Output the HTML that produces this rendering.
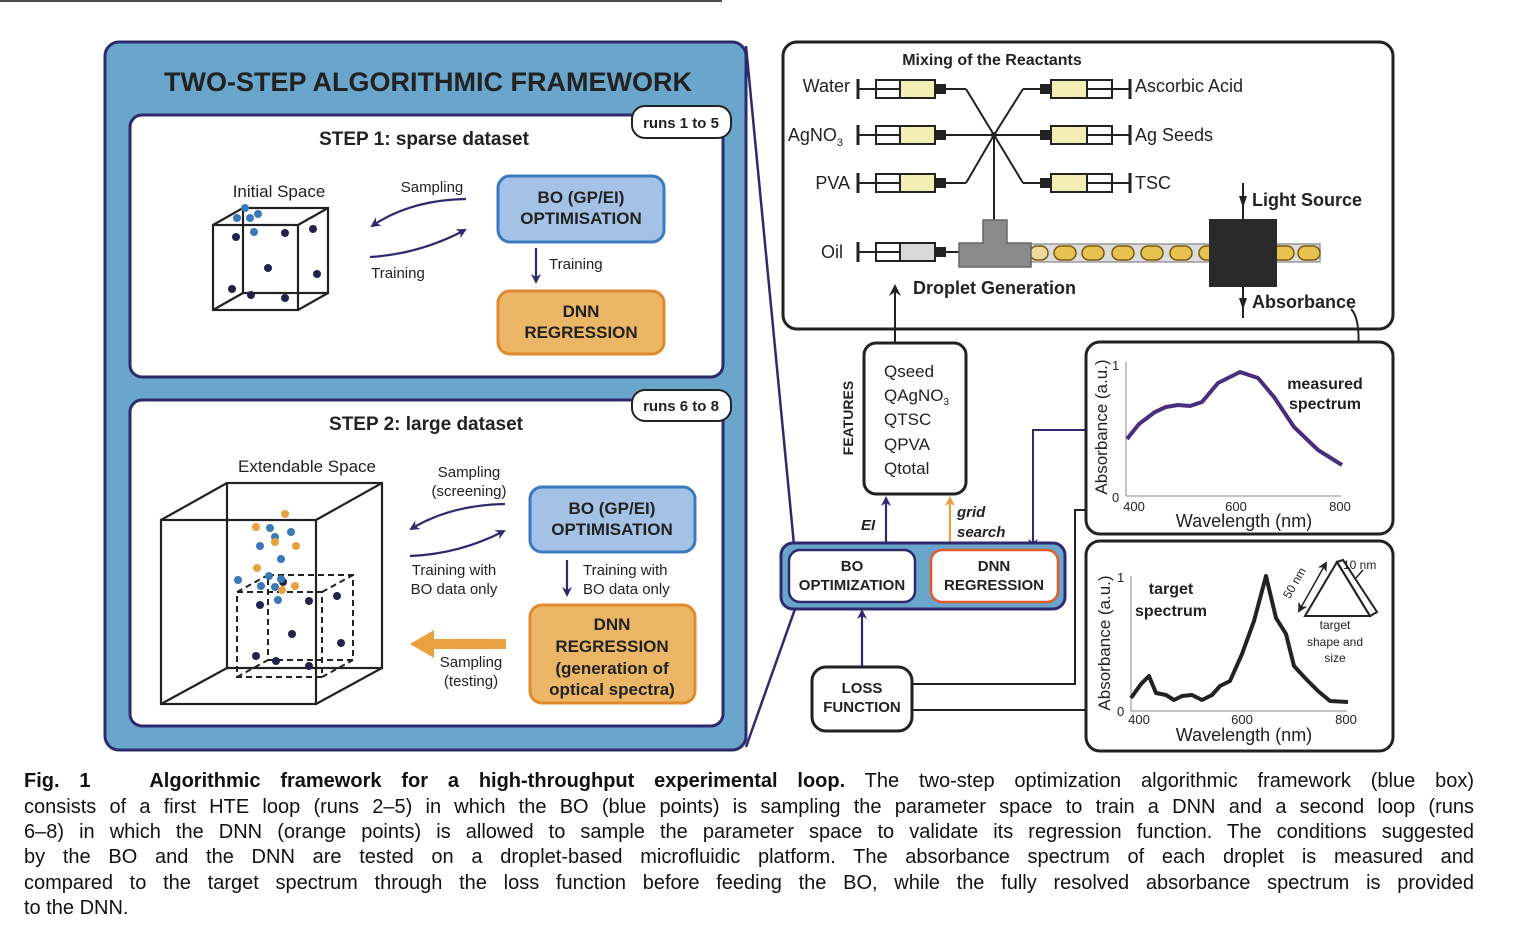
<!DOCTYPE html>
<html><head><meta charset="utf-8">
<style>
html,body{margin:0;padding:0;background:#fff;}
body{width:1516px;height:948px;position:relative;overflow:hidden;font-family:"Liberation Sans",sans-serif;}
svg{position:absolute;left:0;top:0;}
.cap{position:absolute;left:24px;width:1450px;font-size:20px;line-height:25px;color:#111;white-space:nowrap;text-align:justify;text-align-last:justify;}
</style></head><body>
<svg width="1516" height="948" viewBox="0 0 1516 948" font-family="Liberation Sans, sans-serif">
<defs>
<marker id="an" markerWidth="10" markerHeight="10" refX="8" refY="5" orient="auto" markerUnits="userSpaceOnUse"><path d="M0,0 L10,5 L0,10 L3,5 z" fill="#2e2a6e"/></marker>
<marker id="ab" markerWidth="10" markerHeight="10" refX="8" refY="5" orient="auto" markerUnits="userSpaceOnUse"><path d="M0,0 L10,5 L0,10 L3,5 z" fill="#222"/></marker>
<marker id="ao" markerWidth="10" markerHeight="10" refX="8" refY="5" orient="auto" markerUnits="userSpaceOnUse"><path d="M0,0 L10,5 L0,10 L3,5 z" fill="#e8a040"/></marker>
<marker id="ak" markerWidth="12" markerHeight="12" refX="10" refY="6" orient="auto" markerUnits="userSpaceOnUse"><path d="M0,0 L12,6 L0,12 L4,6 z" fill="#222"/></marker>
</defs>
<line x1="0" y1="1" x2="722" y2="1" stroke="#111" stroke-width="1.5"/>

<line x1="746" y1="46" x2="794" y2="545" stroke="#2e2a6e" stroke-width="2.5"/>
<line x1="746" y1="747" x2="795" y2="609" stroke="#2e2a6e" stroke-width="2.5"/>

<rect x="105" y="42" width="641" height="708" rx="14" fill="#6aa6cb" stroke="#2e2a6e" stroke-width="3"/>
<text x="428" y="91" text-anchor="middle" font-size="27" font-weight="bold" fill="#222">TWO-STEP ALGORITHMIC FRAMEWORK</text>

<rect x="130" y="115" width="593" height="262" rx="12" fill="#fff" stroke="#2e2a6e" stroke-width="3"/>
<rect x="632" y="106" width="99" height="32" rx="13" fill="#fff" stroke="#222" stroke-width="2"/>
<text x="681" y="128" text-anchor="middle" font-size="15" font-weight="bold" fill="#222">runs 1 to 5</text>
<text x="424" y="145" text-anchor="middle" font-size="19" font-weight="bold" fill="#222">STEP 1: sparse dataset</text>
<text x="279" y="197" text-anchor="middle" font-size="17" fill="#222">Initial Space</text>
<g fill="none" stroke="#222" stroke-width="2.2">
<rect x="213" y="225" width="85" height="85"/>
<rect x="243" y="208" width="85" height="85"/>
<line x1="213" y1="225" x2="243" y2="208"/><line x1="298" y1="225" x2="328" y2="208"/>
<line x1="213" y1="310" x2="243" y2="293"/><line x1="298" y1="310" x2="328" y2="293"/>
</g>
<g fill="#23234a">
<circle cx="236" cy="237" r="4"/><circle cx="285" cy="233" r="4"/><circle cx="268" cy="268" r="4"/><circle cx="232" cy="289" r="4"/><circle cx="251" cy="295" r="4"/><circle cx="285" cy="298" r="4"/><circle cx="313" cy="229" r="4"/><circle cx="317" cy="274" r="4"/>
</g>
<g fill="#3a78b8">
<circle cx="245" cy="208" r="4"/><circle cx="237" cy="218" r="4"/><circle cx="250" cy="218" r="4"/><circle cx="258" cy="214" r="4"/><circle cx="254" cy="232" r="4"/>
</g>
<text x="432" y="192" text-anchor="middle" font-size="15" fill="#222">Sampling</text>
<path d="M466,199 Q410,200 372,226" fill="none" stroke="#2e2a6e" stroke-width="2.2" marker-end="url(#an)"/>
<path d="M370,257 Q420,254 465,230" fill="none" stroke="#2e2a6e" stroke-width="2.2" marker-end="url(#an)"/>
<text x="398" y="278" text-anchor="middle" font-size="15" fill="#222">Training</text>
<rect x="498" y="176" width="166" height="66" rx="12" fill="#a4c2e6" stroke="#3a7bbf" stroke-width="3"/>
<text x="581" y="203" text-anchor="middle" font-size="17" font-weight="bold" fill="#222">BO (GP/EI)</text>
<text x="581" y="224" text-anchor="middle" font-size="17" font-weight="bold" fill="#222">OPTIMISATION</text>
<line x1="536" y1="248" x2="536" y2="282" stroke="#2e2a6e" stroke-width="2.2" marker-end="url(#an)"/>
<text x="549" y="269" font-size="15" fill="#222">Training</text>
<rect x="498" y="291" width="166" height="63" rx="12" fill="#ebb666" stroke="#e08a2e" stroke-width="3"/>
<text x="581" y="317" text-anchor="middle" font-size="17" font-weight="bold" fill="#222">DNN</text>
<text x="581" y="338" text-anchor="middle" font-size="17" font-weight="bold" fill="#222">REGRESSION</text>

<rect x="130" y="400" width="593" height="326" rx="12" fill="#fff" stroke="#2e2a6e" stroke-width="3"/>
<rect x="632" y="390" width="99" height="31" rx="13" fill="#fff" stroke="#222" stroke-width="2"/>
<text x="681" y="411" text-anchor="middle" font-size="15" font-weight="bold" fill="#222">runs 6 to 8</text>
<text x="426" y="430" text-anchor="middle" font-size="19" font-weight="bold" fill="#222">STEP 2: large dataset</text>
<text x="307" y="472" text-anchor="middle" font-size="17" fill="#222">Extendable Space</text>
<g fill="none" stroke="#222" stroke-width="2.2">
<rect x="161" y="520" width="155" height="184"/>
<rect x="227" y="483" width="155" height="185"/>
<line x1="161" y1="520" x2="227" y2="483"/><line x1="316" y1="520" x2="382" y2="483"/>
<line x1="161" y1="704" x2="227" y2="668"/><line x1="316" y1="704" x2="382" y2="668"/>
</g>
<g fill="none" stroke="#222" stroke-width="2" stroke-dasharray="6,4">
<rect x="237" y="592" width="85" height="85"/>
<rect x="268" y="575" width="85" height="85"/>
<line x1="237" y1="592" x2="268" y2="575"/><line x1="322" y1="592" x2="353" y2="575"/>
<line x1="237" y1="677" x2="268" y2="660"/><line x1="322" y1="677" x2="353" y2="660"/>
</g>
<g fill="#23234a">
<circle cx="283" cy="582" r="4"/><circle cx="260" cy="605" r="4"/><circle cx="309" cy="601" r="4"/><circle cx="337" cy="596" r="4"/><circle cx="292" cy="634" r="4"/><circle cx="341" cy="643" r="4"/><circle cx="256" cy="656" r="4"/><circle cx="276" cy="661" r="4"/><circle cx="309" cy="666" r="4"/>
</g>
<g fill="#3a78b8">
<circle cx="270" cy="528" r="4"/><circle cx="291" cy="532" r="4"/><circle cx="260" cy="546" r="4"/><circle cx="275" cy="537" r="4"/><circle cx="281" cy="559" r="4"/><circle cx="238" cy="580" r="4"/><circle cx="269" cy="576" r="4"/><circle cx="261" cy="586" r="4"/><circle cx="275" cy="587" r="4"/><circle cx="281" cy="579" r="4"/><circle cx="278" cy="600" r="4"/>
</g>
<g fill="#e8a040">
<circle cx="285" cy="514" r="4"/><circle cx="256" cy="527" r="4"/><circle cx="275" cy="542" r="4"/><circle cx="296" cy="546" r="4"/><circle cx="257" cy="568" r="4"/><circle cx="295" cy="586" r="4"/><circle cx="282" cy="590" r="4"/>
</g>
<text x="469" y="477" text-anchor="middle" font-size="15" fill="#222">Sampling</text>
<text x="469" y="496" text-anchor="middle" font-size="15" fill="#222">(screening)</text>
<path d="M505,504 Q450,505 411,529" fill="none" stroke="#2e2a6e" stroke-width="2.2" marker-end="url(#an)"/>
<path d="M410,556 Q460,554 504,531" fill="none" stroke="#2e2a6e" stroke-width="2.2" marker-end="url(#an)"/>
<text x="454" y="575" text-anchor="middle" font-size="15" fill="#222">Training with</text>
<text x="454" y="594" text-anchor="middle" font-size="15" fill="#222">BO data only</text>
<rect x="530" y="487" width="165" height="65" rx="12" fill="#a4c2e6" stroke="#3a7bbf" stroke-width="3"/>
<text x="612" y="514" text-anchor="middle" font-size="17" font-weight="bold" fill="#222">BO (GP/EI)</text>
<text x="612" y="535" text-anchor="middle" font-size="17" font-weight="bold" fill="#222">OPTIMISATION</text>
<line x1="567" y1="560" x2="567" y2="595" stroke="#2e2a6e" stroke-width="2.2" marker-end="url(#an)"/>
<text x="583" y="575" font-size="15" fill="#222">Training with</text>
<text x="583" y="594" font-size="15" fill="#222">BO data only</text>
<rect x="530" y="605" width="165" height="98" rx="12" fill="#ebb666" stroke="#e08a2e" stroke-width="3"/>
<text x="612" y="630" text-anchor="middle" font-size="17" font-weight="bold" fill="#222">DNN</text>
<text x="612" y="652" text-anchor="middle" font-size="17" font-weight="bold" fill="#222">REGRESSION</text>
<text x="612" y="674" text-anchor="middle" font-size="17" font-weight="bold" fill="#222">(generation of</text>
<text x="612" y="695" text-anchor="middle" font-size="17" font-weight="bold" fill="#222">optical spectra)</text>
<rect x="430" y="639" width="76" height="10" fill="#e8a040"/>
<polygon points="410,644 434,630 434,658" fill="#e8a040"/>
<text x="471" y="667" text-anchor="middle" font-size="15" fill="#222">Sampling</text>
<text x="471" y="686" text-anchor="middle" font-size="15" fill="#222">(testing)</text>

<rect x="783" y="42" width="610" height="287" rx="14" fill="#fff" stroke="#222" stroke-width="3"/>
<text x="992" y="65" text-anchor="middle" font-size="16" font-weight="bold" fill="#222">Mixing of the Reactants</text>
<g stroke="#222" stroke-width="2" fill="none">
<g id="ls">
<line x1="858" y1="79" x2="858" y2="99" stroke-width="3"/>
<line x1="858" y1="89" x2="876" y2="89"/>
<rect x="876" y="80" width="24" height="18" fill="#fff"/>
<line x1="876" y1="89" x2="900" y2="89"/>
<rect x="900" y="80" width="35" height="18" fill="#f2eeb4"/>
<rect x="935" y="85" width="10" height="8" fill="#222"/>
</g>
<use href="#ls" y="46"/><use href="#ls" y="94"/>
<line x1="945" y1="89" x2="966" y2="89"/><line x1="966" y1="89" x2="994" y2="135"/>
<line x1="945" y1="135" x2="994" y2="135"/>
<line x1="945" y1="183" x2="966" y2="183"/><line x1="966" y1="183" x2="994" y2="135"/>
<g id="rs">
<line x1="1130" y1="79" x2="1130" y2="99" stroke-width="3"/>
<line x1="1112" y1="89" x2="1130" y2="89"/>
<rect x="1087" y="80" width="25" height="18" fill="#fff"/>
<line x1="1087" y1="89" x2="1112" y2="89"/>
<rect x="1051" y="80" width="36" height="18" fill="#f2eeb4"/>
<rect x="1041" y="85" width="10" height="8" fill="#222"/>
</g>
<use href="#rs" y="46"/><use href="#rs" y="94"/>
<line x1="1023" y1="89" x2="1041" y2="89"/><line x1="1023" y1="89" x2="994" y2="135"/>
<line x1="994" y1="135" x2="1041" y2="135"/>
<line x1="1023" y1="183" x2="1041" y2="183"/><line x1="1023" y1="183" x2="994" y2="135"/>
<line x1="994" y1="135" x2="994" y2="220"/>
<line x1="858" y1="242" x2="858" y2="262" stroke-width="3"/>
<line x1="858" y1="252" x2="876" y2="252"/>
<rect x="876" y="243" width="24" height="18" fill="#fff"/>
<line x1="876" y1="252" x2="900" y2="252"/>
<rect x="900" y="243" width="35" height="18" fill="#d8d8d8"/>
<rect x="935" y="248" width="10" height="8" fill="#222"/>
<line x1="945" y1="252" x2="959" y2="252"/>
</g>
<circle cx="994" cy="135" r="3" fill="#222"/>
<g font-size="18" fill="#222">
<text x="850" y="92" text-anchor="end">Water</text>
<text x="843" y="141" text-anchor="end">AgNO<tspan font-size="11" dy="5">3</tspan></text>
<text x="850" y="189" text-anchor="end">PVA</text>
<text x="843" y="258" text-anchor="end">Oil</text>
<text x="1135" y="92">Ascorbic Acid</text>
<text x="1135" y="141">Ag Seeds</text>
<text x="1135" y="189">TSC</text>
</g>
<rect x="1031" y="244" width="289" height="18" fill="#dcdcdc" stroke="#999" stroke-width="1.5"/>
<g stroke="#7a5a10" stroke-width="1.5" fill="#e6c251">
<rect x="1030" y="246" width="18" height="14" rx="7" fill="#ecd9a0"/>
<rect x="1054" y="246" width="22" height="14" rx="7"/>
<rect x="1082" y="246" width="22" height="14" rx="7"/>
<rect x="1112" y="246" width="22" height="14" rx="7"/>
<rect x="1141" y="246" width="22" height="14" rx="7"/>
<rect x="1170" y="246" width="22" height="14" rx="7"/>
<rect x="1199" y="246" width="22" height="14" rx="7"/>
<rect x="1272" y="246" width="22" height="14" rx="7"/>
<rect x="1298" y="246" width="22" height="14" rx="7"/>
</g>
<path d="M983,220 H1007 V243 H1031 V267 H959 V243 H983 Z" fill="#8a8a8a" stroke="#666" stroke-width="1.5"/>
<rect x="1209" y="219" width="68" height="68" fill="#2a2a2a"/>
<line x1="1243" y1="183" x2="1243" y2="219" stroke="#222" stroke-width="2"/>
<path d="M1239,196 L1243,208 L1247,196" fill="#222"/>
<line x1="1243" y1="287" x2="1243" y2="318" stroke="#222" stroke-width="2"/>
<path d="M1239,298 L1243,310 L1247,298" fill="#222"/>
<text x="1252" y="206" font-size="18" font-weight="bold" fill="#222">Light Source</text>
<text x="1252" y="308" font-size="18" font-weight="bold" fill="#222">Absorbance</text>
<text x="913" y="294" font-size="18" font-weight="bold" fill="#222">Droplet Generation</text>
<path d="M1351,309 Q1362,320 1357,364" fill="none" stroke="#222" stroke-width="2" marker-end="url(#ak)"/>

<line x1="895" y1="343" x2="895" y2="286" stroke="#222" stroke-width="2" marker-end="url(#ak)"/>
<rect x="864" y="343" width="102" height="151" rx="12" fill="#fff" stroke="#222" stroke-width="3"/>
<g font-size="17" fill="#222">
<text x="884" y="377">Qseed</text>
<text x="884" y="401">QAgNO<tspan font-size="10" dy="4">3</tspan></text>
<text x="884" y="425">QTSC</text>
<text x="884" y="450">QPVA</text>
<text x="884" y="474">Qtotal</text>
</g>
<text transform="translate(853,418) rotate(-90)" text-anchor="middle" font-size="14" font-weight="bold" fill="#222">FEATURES</text>
<line x1="886" y1="548" x2="886" y2="498" stroke="#2e2a6e" stroke-width="2.2" marker-end="url(#an)"/>
<text x="861" y="530" font-size="15" font-weight="bold" font-style="italic" fill="#222">EI</text>
<line x1="950" y1="548" x2="950" y2="498" stroke="#e8a040" stroke-width="2.2" marker-end="url(#ao)"/>
<text x="957" y="517" font-size="15" font-weight="bold" font-style="italic" fill="#222">grid</text>
<text x="957" y="537" font-size="15" font-weight="bold" font-style="italic" fill="#222">search</text>
<polyline points="1086,430 1033,430 1033,547" fill="none" stroke="#2e2a6e" stroke-width="2" marker-end="url(#an)"/>

<rect x="781" y="543" width="284" height="66" rx="12" fill="#6aa6cb" stroke="#2e2a6e" stroke-width="3"/>
<rect x="789" y="550" width="126" height="52" rx="11" fill="#fff" stroke="#2e2a6e" stroke-width="2.5"/>
<text x="852" y="571" text-anchor="middle" font-size="15" font-weight="bold" fill="#222">BO</text>
<text x="852" y="590" text-anchor="middle" font-size="15" font-weight="bold" fill="#222">OPTIMIZATION</text>
<rect x="931" y="550" width="127" height="52" rx="11" fill="#fff" stroke="#e05a2b" stroke-width="2.5"/>
<text x="994" y="571" text-anchor="middle" font-size="15" font-weight="bold" fill="#222">DNN</text>
<text x="994" y="590" text-anchor="middle" font-size="15" font-weight="bold" fill="#222">REGRESSION</text>
<line x1="862" y1="666" x2="862" y2="611" stroke="#2e2a6e" stroke-width="2.2" marker-end="url(#an)"/>

<rect x="812" y="667" width="100" height="64" rx="14" fill="#fff" stroke="#222" stroke-width="3"/>
<text x="862" y="693" text-anchor="middle" font-size="15" font-weight="bold" fill="#222">LOSS</text>
<text x="862" y="712" text-anchor="middle" font-size="15" font-weight="bold" fill="#222">FUNCTION</text>
<polyline points="912,684 1075,684 1075,510 1086,510" fill="none" stroke="#222" stroke-width="2"/>
<line x1="912" y1="710" x2="1086" y2="710" stroke="#222" stroke-width="2"/>

<rect x="1086" y="342" width="307" height="192" rx="14" fill="#fff" stroke="#222" stroke-width="3"/>
<g stroke="#888" stroke-width="1" fill="none"><line x1="1126" y1="362" x2="1126" y2="496"/><line x1="1126" y1="496" x2="1341" y2="496"/></g>
<g font-size="13" fill="#222">
<text x="1112" y="370">1</text><text x="1112" y="502">0</text>
<text x="1134" y="511" text-anchor="middle">400</text><text x="1236" y="511" text-anchor="middle">600</text><text x="1340" y="511" text-anchor="middle">800</text>
</g>
<text x="1244" y="527" text-anchor="middle" font-size="18" fill="#222">Wavelength (nm)</text>
<text transform="translate(1107,427) rotate(-90)" text-anchor="middle" font-size="17" fill="#222">Absorbance (a.u.)</text>
<polyline points="1127,439 1139,424 1155,412 1166,407 1178,405 1190,406 1202,402 1218,383 1240,372 1258,378 1274,397 1294,427 1318,450 1342,465" fill="none" stroke="#4a2e7e" stroke-width="4" stroke-linejoin="round"/>
<text x="1325" y="389" text-anchor="middle" font-size="16" font-weight="bold" fill="#222">measured</text>
<text x="1325" y="409" text-anchor="middle" font-size="16" font-weight="bold" fill="#222">spectrum</text>

<rect x="1086" y="541" width="307" height="210" rx="14" fill="#fff" stroke="#222" stroke-width="3"/>
<g stroke="#888" stroke-width="1" fill="none"><line x1="1131" y1="576" x2="1131" y2="711"/><line x1="1131" y1="711" x2="1347" y2="711"/></g>
<g font-size="13" fill="#222">
<text x="1117" y="582">1</text><text x="1117" y="716">0</text>
<text x="1139" y="724" text-anchor="middle">400</text><text x="1242" y="724" text-anchor="middle">600</text><text x="1346" y="724" text-anchor="middle">800</text>
</g>
<text x="1244" y="741" text-anchor="middle" font-size="18" fill="#222">Wavelength (nm)</text>
<text transform="translate(1110,643) rotate(-90)" text-anchor="middle" font-size="17" fill="#222">Absorbance (a.u.)</text>
<polyline points="1131,698 1141,684 1149,676 1156,693 1166,695 1174,700 1182,696 1192,695 1202,700 1212,695 1220,686 1230,681 1242,654 1254,621 1266,576 1276,618 1286,634 1294,666 1306,679 1318,691 1330,701 1348,702" fill="none" stroke="#222" stroke-width="4" stroke-linejoin="round"/>
<text x="1171" y="594" text-anchor="middle" font-size="16" font-weight="bold" fill="#222">target</text>
<text x="1171" y="616" text-anchor="middle" font-size="16" font-weight="bold" fill="#222">spectrum</text>
<g fill="none" stroke="#222" stroke-width="2">
<polygon points="1305,616 1337,562 1370,616"/>
<polygon points="1337,562 1343,560 1377,612 1370,616"/>
</g>
<line x1="1312" y1="588" x2="1326" y2="563" stroke="#222" stroke-width="1.5" marker-end="url(#ab)"/>
<line x1="1312" y1="588" x2="1299" y2="611" stroke="#222" stroke-width="1.5" marker-end="url(#ab)"/>
<text transform="translate(1298,585) rotate(-60)" text-anchor="middle" font-size="12" fill="#222">50 nm</text>
<text x="1343" y="569" font-size="12" fill="#222">10 nm</text>
<line x1="1363" y1="570" x2="1356" y2="578" stroke="#222" stroke-width="1.5"/>
<text x="1335" y="629" text-anchor="middle" font-size="12" fill="#222">target</text>
<text x="1335" y="646" text-anchor="middle" font-size="12" fill="#222">shape and</text>
<text x="1335" y="662" text-anchor="middle" font-size="12" fill="#222">size</text>
</svg>

<div class="cap" style="top:769px"><b>Fig.&nbsp;1&nbsp;&nbsp; Algorithmic framework for a high-throughput experimental loop.</b> The two-step optimization algorithmic framework (blue box)</div>
<div class="cap" style="top:795px">consists of a first HTE loop (runs 2–5) in which the BO (blue points) is sampling the parameter space to train a DNN and a second loop (runs</div>
<div class="cap" style="top:820px">6–8) in which the DNN (orange points) is allowed to sample the parameter space to validate its regression function. The conditions suggested</div>
<div class="cap" style="top:845px">by the BO and the DNN are tested on a droplet-based microfluidic platform. The absorbance spectrum of each droplet is measured and</div>
<div class="cap" style="top:871px">compared to the target spectrum through the loss function before feeding the BO, while the fully resolved absorbance spectrum is provided</div>
<div class="cap" style="top:896px;text-align-last:left;">to the DNN.</div>
</body></html>
